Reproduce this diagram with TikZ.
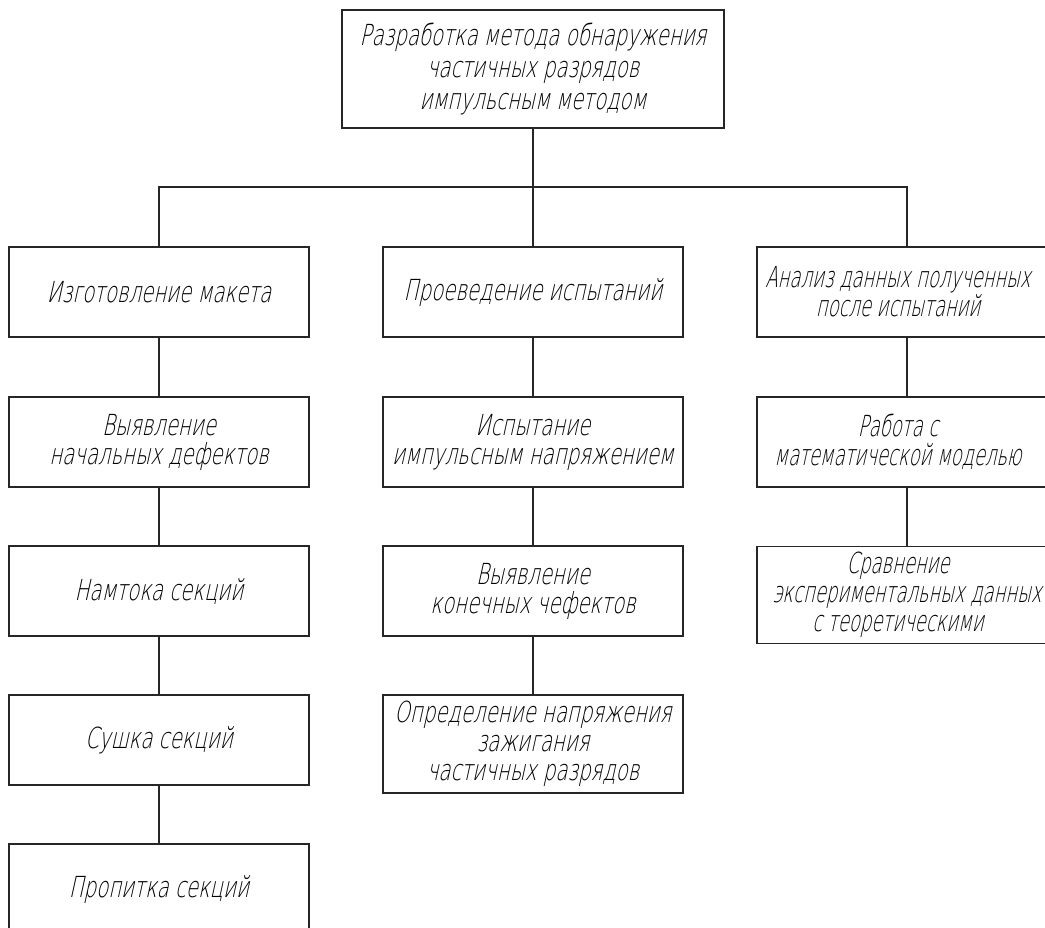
\documentclass[tikz,border=0pt]{standalone}
\usepackage{fontspec}
\newfontfamily\gostfont{DejaVu Sans ExtraLight}[FakeSlant=0.22,FakeStretch=0.68]
\newfontfamily\gostnarrow{DejaVu Sans ExtraLight}[FakeSlant=0.22,FakeStretch=0.62]
\usetikzlibrary{positioning}

\newcommand\lft[1]{#1\hspace*{18pt}}

\tikzset{
  blok/.style={draw=black!85, line width=1.1pt, minimum width=300pt, minimum height=90pt,
    align=center, inner sep=0pt, font=\gostfont\fontsize{29}{29}\selectfont},
  bloknarrow/.style={blok, font=\gostnarrow\fontsize{29}{29}\selectfont},
  link/.style={draw=black!85, line width=1.1pt}
}

\begin{document}
\begin{tikzpicture}[x=1pt,y=-1pt]
\clip (0,0) rectangle (1045,928);

% main box
\node[blok, minimum width=382pt, minimum height=118pt, font=\gostfont\fontsize{29}{32}\selectfont] (top) at (533,69)
  {Разработка метода обнаружения\\частичных разрядов\\импульсным методом};

% first column
\node[blok] (a1) at (159,292) {Изготовление макета};
\node[blok] (a2) at (159,442) {Выявление\\начальных дефектов};
\node[blok] (a3) at (159,591) {Намтока секций};
\node[blok] (a4) at (159,740) {Сушка секций};
\node[blok] (a5) at (159,889) {Пропитка секций};

% second column
\node[blok] (b1) at (533,292) {Проеведение испытаний};
\node[blok] (b2) at (533,442) {Испытание\\импульсным напряжением};
\node[blok] (b3) at (533,591) {Выявление\\конечных чефектов};
\node[blok, minimum height=98pt] (b4) at (533,744) {Определение напряжения\\зажигания\\частичных разрядов};

% third column
\node[bloknarrow] (c1) at (907,292) {\lft{Анализ данных полученных}\\\lft{после испытаний}};
\node[bloknarrow] (c2) at (907,442) {\lft{Работа с}\\\lft{математической моделью}};
\node[bloknarrow, minimum height=97pt] (c3) at (907,595)
  {\lft{Сравнение}\\\lft{экспериментальных данных}\\\lft{с теоретическими}};

% connections
\coordinate (fork) at (533,187);
\draw[link] (top) -- (fork) -- (b1);
\draw[link] (a1) |- (fork) -| (c1);
\draw[link] (a1) -- (a2);
\draw[link] (a2) -- (a3);
\draw[link] (a3) -- (a4);
\draw[link] (a4) -- (a5);
\draw[link] (b1) -- (b2);
\draw[link] (b2) -- (b3);
\draw[link] (b3) -- (b4);
\draw[link] (c1) -- (c2);
\draw[link] (c2) -- (c3);

\end{tikzpicture}
\end{document}
